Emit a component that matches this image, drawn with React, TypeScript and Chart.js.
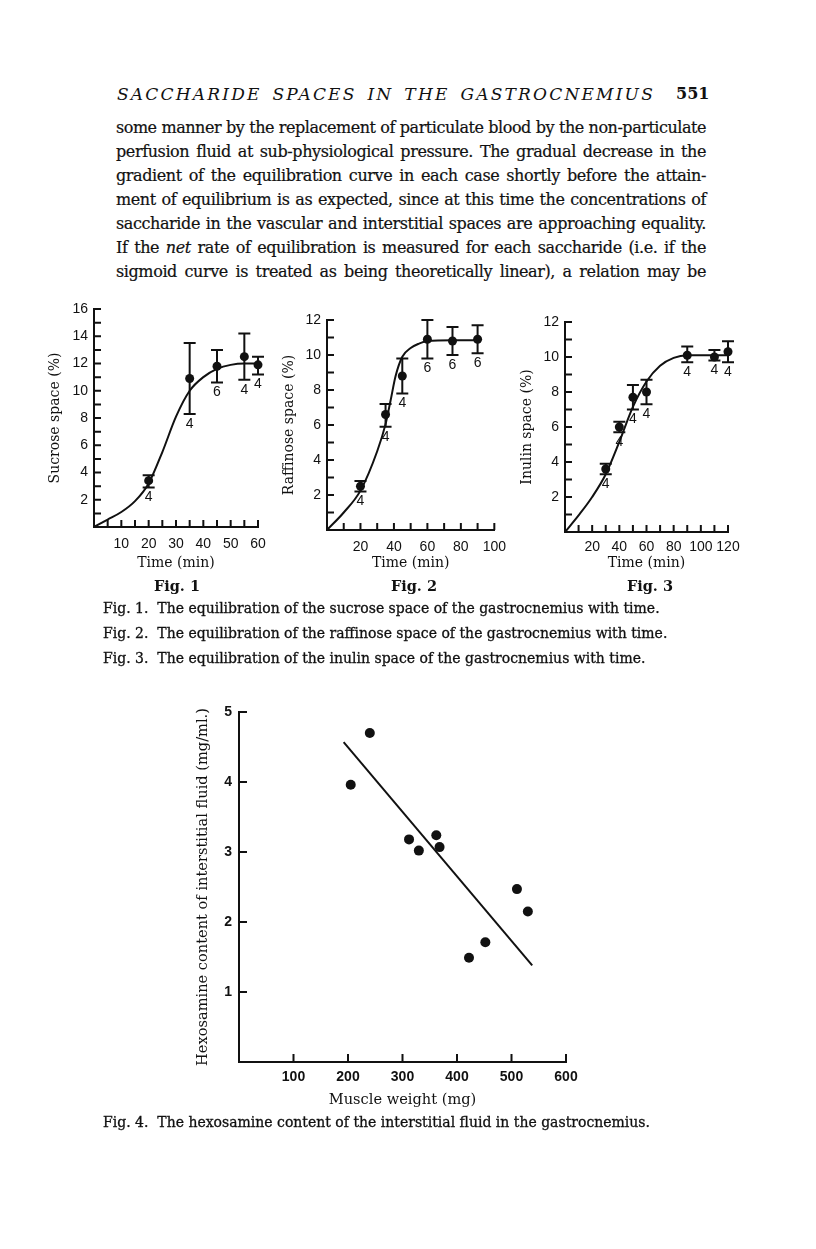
import React, { useEffect, useRef } from 'react';
import { Chart, registerables } from 'chart.js';
Chart.register(...registerables);

// ---------- Fig. 1 : sucrose ----------
const fig1Times = [20, 35, 45, 55, 60];
const fig1Means = [3.4, 10.9, 11.8, 12.5, 11.9];
const fig1Low = [2.9, 8.3, 10.6, 10.8, 11.2];
const fig1High = [3.8, 13.5, 13.0, 14.2, 12.5];
const fig1N = ['4', '4', '6', '4', '4'];
const fig1CurveX = [0, 5, 10, 15, 20, 25, 30, 35, 40, 45, 50, 55, 60];
const fig1CurveY = [0, 0.55, 1.1, 1.9, 3.2, 5.5, 8.1, 10.0, 11.0, 11.6, 11.9, 12.0, 12.0];
const fig1XLabels = [10, 20, 30, 40, 50, 60];
const fig1YLabels = [2, 4, 6, 8, 10, 12, 14, 16];

// ---------- Fig. 2 : raffinose ----------
const fig2Times = [20, 35, 45, 60, 75, 90];
const fig2Means = [2.5, 6.6, 8.8, 10.9, 10.8, 10.9];
const fig2Low = [2.2, 5.9, 7.8, 9.8, 10.0, 10.1];
const fig2High = [2.8, 7.2, 9.8, 12.0, 11.6, 11.7];
const fig2N = ['4', '4', '4', '6', '6', '6'];
const fig2CurveX = [0, 10, 20, 30, 35, 38, 41, 45, 50, 55, 60, 75, 90];
const fig2CurveY = [0, 1.0, 2.25, 4.5, 6.05, 7.4, 8.8, 9.9, 10.4, 10.65, 10.8, 10.85, 10.85];
const fig2XLabels = [20, 40, 60, 80, 100];
const fig2YLabels = [2, 4, 6, 8, 10, 12];

// ---------- Fig. 3 : inulin ----------
const fig3Times = [30, 40, 50, 60, 90, 110, 120];
const fig3Means = [3.6, 6.0, 7.7, 8.0, 10.1, 10.0, 10.3];
const fig3Low = [3.3, 5.7, 7.0, 7.3, 9.7, 9.8, 9.7];
const fig3High = [3.9, 6.3, 8.4, 8.7, 10.6, 10.4, 10.9];
const fig3N = ['4', '4', '4', '4', '4', '4', '4'];
const fig3CurveX = [0, 10, 20, 30, 40, 50, 60, 70, 80, 90, 105, 120];
const fig3CurveY = [0, 0.95, 2.0, 3.3, 5.15, 7.15, 8.6, 9.5, 9.95, 10.1, 10.1, 10.1];
const fig3XLabels = [20, 40, 60, 80, 100, 120];
const fig3YLabels = [2, 4, 6, 8, 10, 12];

// ---------- Fig. 4 : hexosamine ----------
const fig4Weights = [205, 240, 312, 330, 362, 368, 422, 452, 510, 530];
const fig4Hexosamine = [3.96, 4.7, 3.18, 3.02, 3.24, 3.07, 1.49, 1.71, 2.47, 2.15];
const fig4LineX = [192, 538];
const fig4LineY = [4.57, 1.38];
const fig4XLabels = [100, 200, 300, 400, 500, 600];
const fig4YLabels = [1, 2, 3, 4, 5];

const INK = '#111111';
const SERIF = '"DejaVu Serif", "Liberation Serif", serif';
const SANS = '"Liberation Sans", Arial, sans-serif';

type Spec = {
  box: [number, number, number, number];
  area: [number, number, number, number];
  xMin: number; xMax: number; xStep: number; xLabels: number[];
  yMin: number; yMax: number; yStep: number; yLabels: number[];
  xTitle: string; yTitle: string;
  xTitlePad: number; yTitlePad: number;
  xTickPad: number; yTickPad: number;
  tickFont: any; titleFont: any;
  tickLen: number;
  pointRadius: number;
  px: number[]; py: number[];
  cx: number[]; cy: number[];
  smooth: boolean;
  low?: number[]; high?: number[]; n?: string[];
};

function makeConfig(s: Spec): any {
  const [bx, by, bw, bh] = s.box;
  const [L, T, R, B] = s.area;
  const ticksPlugin = {
    id: 'inwardTicks',
    afterDatasetsDraw(chart: any) {
      const { ctx, chartArea } = chart;
      const xs = chart.scales.x;
      const ys = chart.scales.y;
      ctx.save();
      ctx.strokeStyle = INK;
      ctx.lineWidth = 2;
      ctx.beginPath();
      for (const t of xs.ticks) {
        if (t.value <= xs.min) continue;
        const p = xs.getPixelForValue(t.value);
        ctx.moveTo(p, chartArea.bottom);
        ctx.lineTo(p, chartArea.bottom - s.tickLen);
      }
      for (const t of ys.ticks) {
        if (t.value <= ys.min) continue;
        const p = ys.getPixelForValue(t.value);
        ctx.moveTo(chartArea.left, p);
        ctx.lineTo(chartArea.left + s.tickLen, p);
      }
      ctx.stroke();
      if (s.low && s.high) {
        ctx.lineWidth = 2;
        ctx.beginPath();
        for (let i = 0; i < s.px.length; i++) {
          const x = xs.getPixelForValue(s.px[i]);
          const yl = ys.getPixelForValue(s.low[i]);
          const yh = ys.getPixelForValue(s.high[i]);
          ctx.moveTo(x, yl); ctx.lineTo(x, yh);
          ctx.moveTo(x - 6, yl); ctx.lineTo(x + 6, yl);
          ctx.moveTo(x - 6, yh); ctx.lineTo(x + 6, yh);
        }
        ctx.stroke();
        if (s.n) {
          ctx.fillStyle = INK;
          ctx.font = '14px ' + SANS;
          ctx.textAlign = 'center';
          ctx.textBaseline = 'middle';
          for (let i = 0; i < s.px.length; i++) {
            const x = xs.getPixelForValue(s.px[i]);
            const yl = ys.getPixelForValue(s.low[i]);
            ctx.fillText(s.n[i], x, yl + 10);
          }
        }
      }
      ctx.restore();
    },
  };
  return {
    type: 'scatter',
    data: {
      datasets: [
        {
          data: s.cx.map((x, i) => ({ x, y: s.cy[i] })),
          showLine: true,
          borderColor: INK,
          borderWidth: 2,
          pointRadius: 0,
          tension: s.smooth ? 0.4 : 0,
          cubicInterpolationMode: s.smooth ? 'monotone' : 'default',
          clip: false,
        },
        {
          data: s.px.map((x, i) => ({ x, y: s.py[i] })),
          pointRadius: s.pointRadius,
          pointBackgroundColor: INK,
          pointBorderColor: INK,
          pointBorderWidth: 0,
          showLine: false,
          clip: false,
        },
      ],
    },
    options: {
      responsive: false,
      maintainAspectRatio: false,
      animation: false,
      devicePixelRatio: 1,
      events: [],
      layout: { padding: { top: T - by, right: bx + bw - R, left: 0, bottom: 0 } },
      plugins: { legend: { display: false }, tooltip: { enabled: false } },
      scales: {
        x: {
          type: 'linear',
          min: s.xMin, max: s.xMax,
          afterFit: (sc: any) => { sc.height = by + bh - B; },
          grid: { display: false, drawTicks: false },
          border: { display: true, color: INK, width: 2 },
          ticks: {
            stepSize: s.xStep, autoSkip: false, maxRotation: 0, minRotation: 0,
            padding: s.xTickPad, color: INK, font: s.tickFont,
            callback: (v: number) => (s.xLabels.includes(v) ? String(v) : ''),
          },
          title: { display: true, text: s.xTitle, color: INK, font: s.titleFont, padding: { top: 0, bottom: s.xTitlePad } },
        },
        y: {
          type: 'linear',
          min: s.yMin, max: s.yMax,
          afterFit: (sc: any) => { sc.width = L - bx; },
          grid: { display: false, drawTicks: false },
          border: { display: true, color: INK, width: 2 },
          ticks: {
            stepSize: s.yStep, autoSkip: false,
            padding: s.yTickPad, color: INK, font: s.tickFont,
            callback: (v: number) => (s.yLabels.includes(v) ? String(v) : ''),
          },
          title: { display: true, text: s.yTitle, color: INK, font: s.titleFont, padding: { top: s.yTitlePad, bottom: 0 } },
        },
      },
    },
    plugins: [ticksPlugin],
  };
}

const smallTick = { family: SANS, size: 14 };
const smallTitle = { family: SERIF, size: 14 };

const fig1Spec: Spec = {
  box: [35, 290, 240, 290], area: [94, 309, 258, 527],
  xMin: 0, xMax: 60, xStep: 5, xLabels: fig1XLabels,
  yMin: 0, yMax: 16, yStep: 1, yLabels: fig1YLabels,
  xTitle: 'Time (min)', yTitle: 'Sucrose space (%)',
  xTitlePad: 8.6, yTitlePad: 11.6, xTickPad: 9, yTickPad: 6,
  tickFont: smallTick, titleFont: smallTitle, tickLen: 7, pointRadius: 4.5,
  px: fig1Times, py: fig1Means, cx: fig1CurveX, cy: fig1CurveY, smooth: true,
  low: fig1Low, high: fig1High, n: fig1N,
};
const fig2Spec: Spec = {
  box: [270, 300, 245, 280], area: [327, 320, 502.5, 530],
  xMin: 0, xMax: 100, xStep: 10, xLabels: fig2XLabels,
  yMin: 0, yMax: 12, yStep: 1, yLabels: fig2YLabels,
  xTitle: 'Time (min)', yTitle: 'Raffinose space (%)',
  xTitlePad: 8.6, yTitlePad: 10.6, xTickPad: 9, yTickPad: 6,
  tickFont: smallTick, titleFont: smallTitle, tickLen: 7, pointRadius: 4.5,
  px: fig2Times, py: fig2Means, cx: fig2CurveX, cy: fig2CurveY, smooth: true,
  low: fig2Low, high: fig2High, n: fig2N,
};
const fig3Spec: Spec = {
  box: [505, 300, 245, 280], area: [565, 322, 728, 532],
  xMin: 0, xMax: 120, xStep: 10, xLabels: fig3XLabels,
  yMin: 0, yMax: 12, yStep: 1, yLabels: fig3YLabels,
  xTitle: 'Time (min)', yTitle: 'Inulin space (%)',
  xTitlePad: 8.6, yTitlePad: 13.6, xTickPad: 7, yTickPad: 6,
  tickFont: smallTick, titleFont: smallTitle, tickLen: 7, pointRadius: 4.5,
  px: fig3Times, py: fig3Means, cx: fig3CurveX, cy: fig3CurveY, smooth: true,
  low: fig3Low, high: fig3High, n: fig3N,
};
const fig4Spec: Spec = {
  box: [185, 690, 420, 425], area: [239, 712, 566, 1062],
  xMin: 0, xMax: 600, xStep: 100, xLabels: fig4XLabels,
  yMin: 0, yMax: 5, yStep: 1, yLabels: fig4YLabels,
  xTitle: 'Muscle weight (mg)', yTitle: 'Hexosamine content of interstitial fluid (mg/ml.)',
  xTitlePad: 5.6, yTitlePad: 9.3, xTickPad: 7, yTickPad: 7,
  tickFont: { family: SANS, size: 14, weight: 'bold' }, titleFont: { family: SERIF, size: 14.6 }, tickLen: 8, pointRadius: 5,
  px: fig4Weights, py: fig4Hexosamine, cx: fig4LineX, cy: fig4LineY, smooth: false,
};

function FigChart({ spec }: { spec: Spec }) {
  const ref = useRef<HTMLCanvasElement | null>(null);
  useEffect(() => {
    if (!ref.current) return;
    const chart = new Chart(ref.current, makeConfig(spec));
    return () => chart.destroy();
  }, [spec]);
  const [x, y, w, h] = spec.box;
  return (
    <canvas
      ref={ref}
      width={w}
      height={h}
      style={{ position: 'absolute', left: x, top: y, width: w, height: h }}
    />
  );
}

function T(props: {
  x: number; y: number; size: number; children: any; w?: number; family?: string;
  align?: 'left' | 'center' | 'justify'; weight?: any; italic?: boolean; ls?: number; stroke?: number;
}) {
  const { x, y, size, children, w, align = 'left', weight = 400, italic = false, ls = 0, family = SERIF, stroke = 0 } = props;
  const width = w ?? 400;
  const left = align === 'center' ? x - width / 2 : x;
  return (
    <div
      style={{
        position: 'absolute', left, top: y - 0.845 * size, width,
        fontFamily: family, fontSize: size, lineHeight: `${size}px`,
        fontWeight: weight, fontStyle: italic ? 'italic' : 'normal',
        letterSpacing: ls, whiteSpace: 'nowrap', color: INK,
        WebkitTextStroke: stroke ? `${stroke}px ${INK}` : undefined,
        textAlign: align === 'justify' ? 'justify' : align,
        textAlignLast: align === 'justify' ? 'justify' : (align as any),
      } as any}
    >
      {children}
    </div>
  );
}

const paraLines: any[] = [
  'some manner by the replacement of particulate blood by the non-particulate',
  'perfusion fluid at sub-physiological pressure. The gradual decrease in the',
  'gradient of the equilibration curve in each case shortly before the attain-',
  'ment of equilibrium is as expected, since at this time the concentrations of',
  'saccharide in the vascular and interstitial spaces are approaching equality.',
  <>If the <i>net</i> rate of equilibration is measured for each saccharide (i.e. if the</>,
  'sigmoid curve is treated as being theoretically linear), a relation may be',
];

const captions = [
  'Fig. 1.\u00a0\u00a0The equilibration of the sucrose space of the gastrocnemius with time.',
  'Fig. 2.\u00a0\u00a0The equilibration of the raffinose space of the gastrocnemius with time.',
  'Fig. 3.\u00a0\u00a0The equilibration of the inulin space of the gastrocnemius with time.',
];

export default function App() {
  return (
    <div style={{ position: 'absolute', left: 0, top: 0, width: 816, height: 1249, background: '#fff', overflow: 'hidden' }}>
      <T x={117} y={100} size={17} w={538} align="justify" italic ls={2.2}>SACCHARIDE SPACES IN THE GASTROCNEMIUS</T>
      <T x={676} y={100} size={16} w={32} weight={700}>551</T>
      {paraLines.map((l, i) => (
        <T key={i} x={116} y={134 + i * 24} size={16} w={590} align="justify" ls={i === 0 ? -0.47 : -0.4} stroke={0.2}>{l}</T>
      ))}
      <FigChart spec={fig1Spec} />
      <FigChart spec={fig2Spec} />
      <FigChart spec={fig3Spec} />
      <T x={177} y={591} size={14.5} w={120} align="center" weight={700}>Fig. 1</T>
      <T x={414} y={591} size={14.5} w={120} align="center" weight={700}>Fig. 2</T>
      <T x={650} y={591} size={14.5} w={120} align="center" weight={700}>Fig. 3</T>
      {captions.map((c, i) => (
        <T key={i} x={103} y={613 + i * 25} size={14} w={650} stroke={0.3}>{c}</T>
      ))}
      <FigChart spec={fig4Spec} />
      <T x={103} y={1127} size={14} w={650} stroke={0.3}>Fig. 4.{'\u00a0\u00a0'}The hexosamine content of the interstitial fluid in the gastrocnemius.</T>
    </div>
  );
}
